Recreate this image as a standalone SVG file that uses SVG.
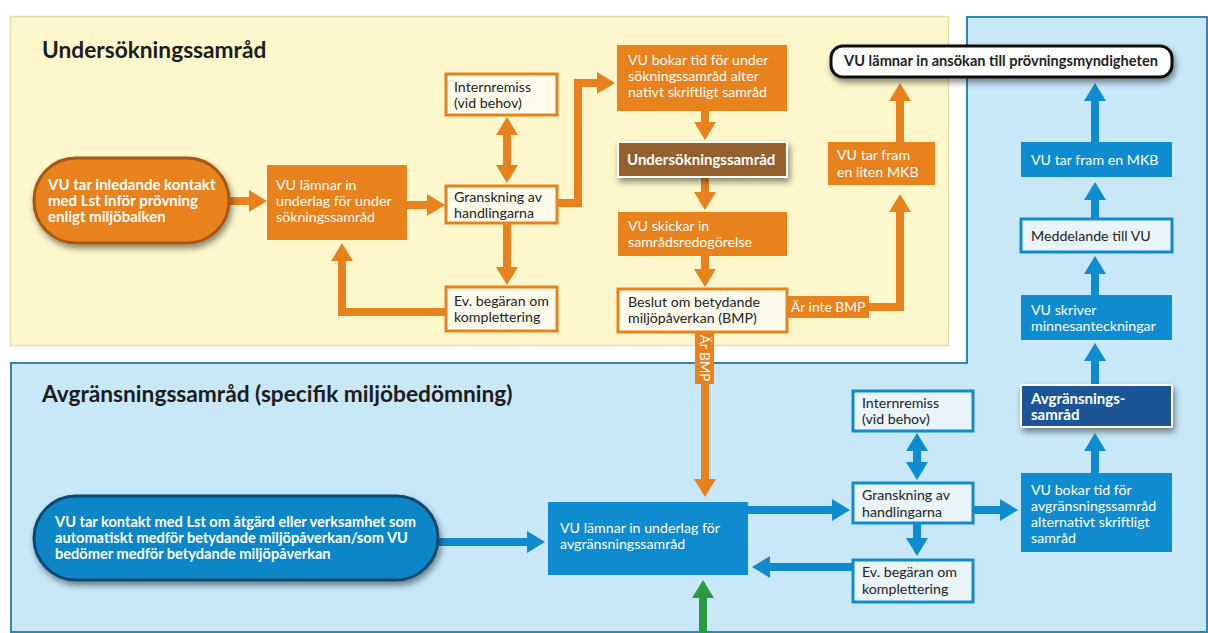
<svg xmlns="http://www.w3.org/2000/svg" width="1208" height="633" viewBox="0 0 1208 633">
<style>
.t{font-family:Lato,"Open Sans","Liberation Sans",sans-serif;font-size:14.2px}
.b{font-weight:bold;font-size:15px}
.w{fill:#ffffff}
.d{fill:#222222}
.h{font-family:Lato,"Open Sans","Liberation Sans",sans-serif;font-size:22.7px;font-weight:bold;fill:#1c1c1c}
.or{fill:#e8821c}
.ow{fill:#fffcec;stroke:#e8821c;stroke-width:3}
.bl{fill:#0f8bcf}
.bw{fill:#eaf5fb;stroke:#0f8bcf;stroke-width:3}
.co{fill:none;stroke:#e8821c;stroke-width:8}
.cb{fill:none;stroke:#0f8bcf;stroke-width:8}
.cg{fill:none;stroke:#2a9a45;stroke-width:8}
</style>
<defs>
<filter id="sh" x="-10%" y="-20%" width="130%" height="160%">
<feDropShadow dx="2" dy="4" stdDeviation="3" flood-color="#000" flood-opacity="0.45"/>
</filter>
<marker id="ao" markerUnits="userSpaceOnUse" markerWidth="18" markerHeight="22" viewBox="0 0 18 22" refX="8" refY="11" orient="auto-start-reverse"><path d="M0,0 L18,11 L0,22 Z" fill="#e8821c"/></marker>
<marker id="ab" markerUnits="userSpaceOnUse" markerWidth="18" markerHeight="22" viewBox="0 0 18 22" refX="8" refY="11" orient="auto-start-reverse"><path d="M0,0 L18,11 L0,22 Z" fill="#0f8bcf"/></marker>
<marker id="ag" markerUnits="userSpaceOnUse" markerWidth="18" markerHeight="22" viewBox="0 0 18 22" refX="8" refY="11" orient="auto-start-reverse"><path d="M0,0 L18,11 L0,22 Z" fill="#2a9a45"/></marker>
</defs>
<rect width="1208" height="633" fill="#ffffff"/>
<g id="panels">
<rect x="10.5" y="16.5" width="938" height="329" fill="#fdf7cb" stroke="#e6deb0" stroke-width="1.5"/>
<path d="M967,17 H1207 V632 H11 V363 H967 Z" fill="#c8e8f8" stroke="#2f89ab" stroke-width="2"/>
<text class="h" x="42" y="58">Undersökningssamråd</text>
<text class="h" x="42" y="402">Avgränsningssamråd (specifik miljöbedömning)</text>
</g>
<g id="connectors">
<path class="co" d="M229,201 H257" marker-end="url(#ao)"/>
<path class="co" d="M407,205 H435" marker-end="url(#ao)"/>
<path class="co" d="M507,127 V173" marker-start="url(#ao)" marker-end="url(#ao)"/>
<path class="co" d="M507,223 V275" marker-end="url(#ao)"/>
<path class="co" d="M446,312 H342 V253" marker-end="url(#ao)"/>
<path class="co" d="M557,203 H578 V83 H605" marker-end="url(#ao)"/>
<path class="co" d="M705,111 V130" marker-end="url(#ao)"/>
<path class="co" d="M705,177 V200" marker-end="url(#ao)"/>
<path class="co" d="M705,256 V277" marker-end="url(#ao)"/>
<path class="co" d="M787,307 H900 V204" marker-end="url(#ao)"/>
<path class="co" d="M900,142 V93" marker-end="url(#ao)"/>
<path class="co" d="M705,332 V487" marker-end="url(#ao)"/>
<rect x="786" y="296" width="83" height="22" class="or"/>
<text class="t w" x="791" y="312" style="font-size:13.8px">Är inte BMP</text>
<rect x="695" y="332" width="19" height="52" class="or"/>
<text class="t w" style="font-size:13.5px" text-anchor="middle" transform="translate(700,358) rotate(90)">Är BMP</text>
<path class="cb" d="M438,542 H535" marker-end="url(#ab)"/>
<path class="cb" d="M748,510 H840" marker-end="url(#ab)"/>
<path class="cb" d="M853,567 H762" marker-end="url(#ab)"/>
<path class="cb" d="M917,443 V470" marker-start="url(#ab)" marker-end="url(#ab)"/>
<path class="cb" d="M917,523 V546" marker-end="url(#ab)"/>
<path class="cb" d="M973,510 H1008" marker-end="url(#ab)"/>
<path class="cb" d="M1095,473 V443" marker-end="url(#ab)"/>
<path class="cb" d="M1095,385 V353" marker-end="url(#ab)"/>
<path class="cb" d="M1095,295 V266" marker-end="url(#ab)"/>
<path class="cb" d="M1095,219 V192" marker-end="url(#ab)"/>
<path class="cb" d="M1095,142 V93" marker-end="url(#ab)"/>
<path class="cg" d="M703,640 V590" marker-end="url(#ag)"/>
</g>
<g id="n1">
<rect x="34" y="158" width="195" height="85" rx="42" fill="#e8821c" stroke="#a55813" stroke-width="3" filter="url(#sh)"/>
<text class="t b w" x="48"><tspan x="48" y="190">VU tar inledande kontakt</tspan><tspan x="48" y="206">med Lst inför prövning</tspan><tspan x="48" y="222">enligt miljöbalken</tspan></text>
</g>
<g id="n2">
<rect x="267" y="165" width="140" height="75" class="or"/>
<text class="t w"><tspan x="276" y="190">VU lämnar in</tspan><tspan x="276" y="206">underlag för under</tspan><tspan x="276" y="222">sökningssamråd</tspan></text>
</g>
<g id="n3">
<rect x="446" y="74" width="111" height="41" class="ow"/>
<text class="t d"><tspan x="454" y="92">Internremiss</tspan><tspan x="454" y="108">(vid behov)</tspan></text>
</g>
<g id="n4">
<rect x="446" y="186" width="111" height="37" class="ow"/>
<text class="t d"><tspan x="454" y="202">Granskning av</tspan><tspan x="454" y="218">handlingarna</tspan></text>
</g>
<g id="n5">
<rect x="446" y="287" width="111" height="44" class="ow"/>
<text class="t d"><tspan x="454" y="306">Ev. begäran om</tspan><tspan x="454" y="322">komplettering</tspan></text>
</g>
<g id="n6">
<rect x="617" y="45" width="170" height="66" class="or"/>
<text class="t w"><tspan x="628" y="65">VU bokar tid för under</tspan><tspan x="628" y="81">sökningssamråd alter</tspan><tspan x="628" y="97">nativt skriftligt samråd</tspan></text>
</g>
<g id="n7">
<rect x="618" y="142" width="169" height="35" fill="#93602e" stroke="#ffffff" stroke-width="2" filter="url(#sh)"/>
<text class="t b w" x="627" y="165">Undersökningssamråd</text>
</g>
<g id="n8">
<rect x="618" y="212" width="169" height="44" class="or"/>
<text class="t w"><tspan x="628" y="231">VU skickar in</tspan><tspan x="628" y="247">samrådsredogörelse</tspan></text>
</g>
<g id="n9">
<rect x="618" y="289" width="169" height="43" class="ow"/>
<text class="t d"><tspan x="628" y="307">Beslut om betydande</tspan><tspan x="628" y="323">miljöpåverkan (BMP)</tspan></text>
</g>
<g id="n10">
<rect x="828" y="142" width="107" height="43" class="or"/>
<text class="t w"><tspan x="837" y="160">VU tar fram</tspan><tspan x="837" y="177">en liten MKB</tspan></text>
</g>
<g id="n11">
<rect x="831" y="46" width="341" height="31" rx="12" fill="#ffffff" stroke="#111111" stroke-width="3" filter="url(#sh)"/>
<text class="t b d" x="1001" y="66" text-anchor="middle" style="font-size:14.6px">VU lämnar in ansökan till prövningsmyndigheten</text>
</g>
<g id="n12">
<rect x="1021" y="142" width="151" height="35" class="bl"/>
<text class="t w" x="1031" y="165">VU tar fram en MKB</text>
</g>
<g id="n13">
<rect x="1021" y="219" width="151" height="33" class="bw"/>
<text class="t d" x="1031" y="241">Meddelande till VU</text>
</g>
<g id="n14">
<rect x="1021" y="295" width="151" height="45" class="bl"/>
<text class="t w"><tspan x="1031" y="315">VU skriver</tspan><tspan x="1031" y="331">minnesanteckningar</tspan></text>
</g>
<g id="n15">
<rect x="1021" y="385" width="151" height="42" fill="#1f5596" stroke="#ffffff" stroke-width="2" filter="url(#sh)"/>
<text class="t b w"><tspan x="1031" y="404">Avgränsnings-</tspan><tspan x="1031" y="420">samråd</tspan></text>
</g>
<g id="n16">
<rect x="1021" y="473" width="151" height="79" class="bl"/>
<text class="t w"><tspan x="1031" y="495">VU bokar tid för</tspan><tspan x="1031" y="511">avgränsningssamråd</tspan><tspan x="1031" y="527">alternativt skriftligt</tspan><tspan x="1031" y="543">samråd</tspan></text>
</g>
<g id="n17">
<rect x="853" y="391" width="120" height="40" class="bw"/>
<text class="t d"><tspan x="862" y="408">Internremiss</tspan><tspan x="862" y="424">(vid behov)</tspan></text>
</g>
<g id="n18">
<rect x="853" y="483" width="120" height="40" class="bw"/>
<text class="t d"><tspan x="862" y="500">Granskning av</tspan><tspan x="862" y="517">handlingarna</tspan></text>
</g>
<g id="n19">
<rect x="853" y="560" width="120" height="42" class="bw"/>
<text class="t d"><tspan x="862" y="577">Ev. begäran om</tspan><tspan x="862" y="594">komplettering</tspan></text>
</g>
<g id="n20">
<rect x="548" y="502" width="200" height="73" class="bl"/>
<text class="t w"><tspan x="560" y="533">VU lämnar in underlag för</tspan><tspan x="560" y="549">avgränsningssamråd</tspan></text>
</g>
<g id="n21">
<rect x="34" y="496" width="404" height="84" rx="42" fill="#0e86c8" stroke="#0b4a70" stroke-width="3" filter="url(#sh)"/>
<text class="t b w" style="font-size:14.6px"><tspan x="55" y="527">VU tar kontakt med Lst om åtgärd eller verksamhet som</tspan><tspan x="55" y="543">automatiskt medför betydande miljöpåverkan/som VU</tspan><tspan x="55" y="559">bedömer medför betydande miljöpåverkan</tspan></text>
</g>
</svg>
